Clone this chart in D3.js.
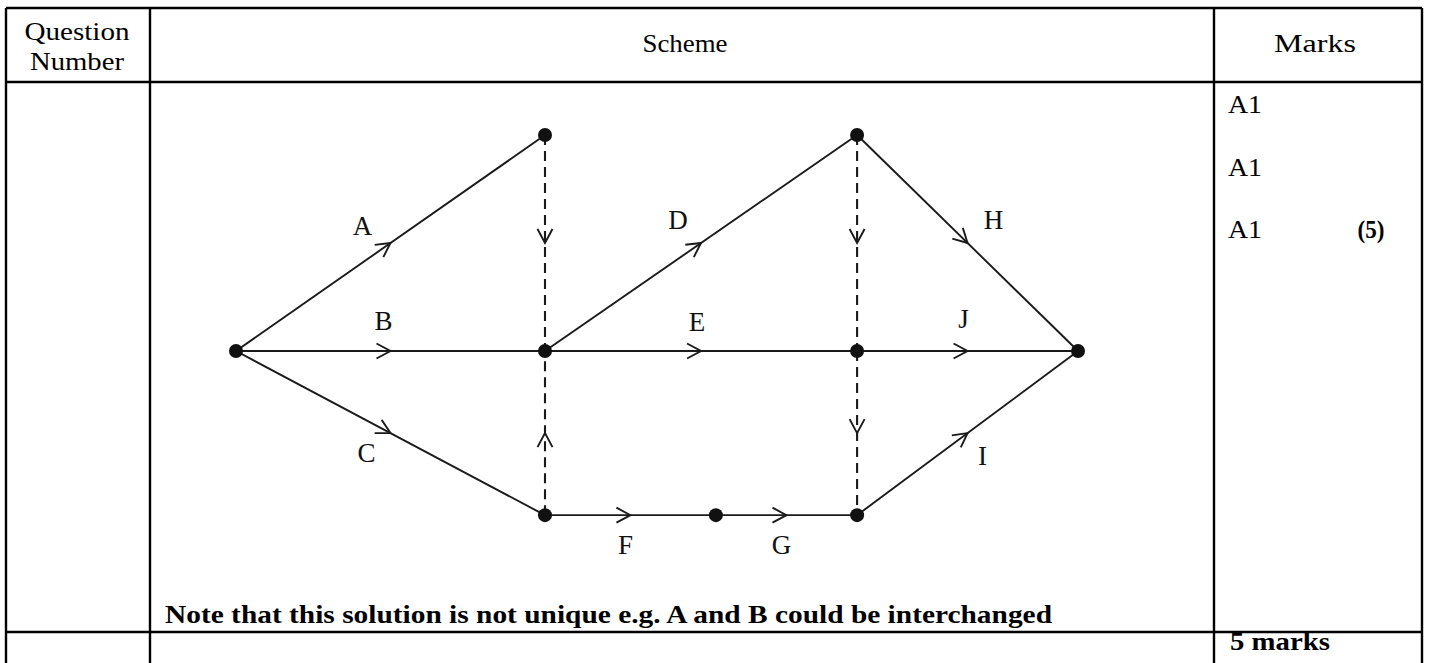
<!DOCTYPE html>
<html><head><meta charset="utf-8">
<script src="https://cdn.jsdelivr.net/npm/d3@7"></script>
<style>body{margin:0;background:#fff}svg{display:block}</style>
</head><body><svg id="c" width="1431" height="663"></svg>
<script>
// ---- data ----
const headerQuestion = ["Question", "Number"];
const headerScheme = "Scheme";
const headerMarks = "Marks";
const markCodes = ["A1", "A1", "A1"];
const partTotal = "(5)";
const totalMarks = "5 marks";
const noteText = "Note that this solution is not unique e.g. A and B could be interchanged";

// activity network: events (nodes) with position in stage units / level units
const eventIds = ["s", "t1", "m1", "b1", "b2", "t2", "m2", "b3", "e"];
const eventStage = [0, 1, 1, 1, 1.553, 2.01, 2.01, 2.01, 2.725];
const eventLevel = [0, 1, 0, -0.76, -0.76, 1, 0, -0.76, 0];

const activityNames = ["A", "B", "C", "D", "E", "F", "G", "H", "J", "I"];
const activityFrom = ["s", "s", "s", "m1", "m1", "b1", "b2", "t2", "m2", "b3"];
const activityTo = ["t1", "m1", "b1", "t2", "m2", "b2", "b3", "e", "e", "e"];

const dummyFrom = ["t1", "b1", "t2", "m2"];
const dummyTo = ["m1", "m1", "m2", "b3"];

// ---- layout / style ----
const W = 1431, H = 663;
const tbl = {left: 6, right: 1422, top: 8, bottom: 666, col1: 150, col2: 1214, row1: 82, row2: 632};
const labelOffset = {A: [-28, -17], B: [-7, -30], C: [-24, 20], D: [-23, -23], E: [-4, -29],
  F: [-5, 30], G: [-5, 30], H: [26, -23], J: [-4, -32], I: [15, 23]};
const serif = "'Liberation Serif','Times New Roman',Times,serif";

const svg = d3.select("#c");
svg.append("rect").attr("width", W).attr("height", H).attr("fill", "#fff");

const x = d3.scaleLinear().domain([0, 1]).range([236, 545]);
const y = d3.scaleLinear().domain([0, 1]).range([351, 135]);

const pos = {};
eventIds.forEach((id, i) => pos[id] = [x(eventStage[i]), y(eventLevel[i])]);

// ---- table ----
const g = svg.append("g").attr("stroke", "#000").attr("stroke-width", 2.4);
[[tbl.left, tbl.top, tbl.right, tbl.top],
 [tbl.left, tbl.row1, tbl.right, tbl.row1],
 [tbl.left, tbl.row2, tbl.right, tbl.row2],
 [tbl.left, tbl.top, tbl.left, tbl.bottom],
 [tbl.col1, tbl.top, tbl.col1, tbl.bottom],
 [tbl.col2, tbl.top, tbl.col2, tbl.bottom],
 [tbl.right, tbl.top, tbl.right, tbl.bottom]].forEach(l =>
  g.append("line").attr("x1", l[0]).attr("y1", l[1]).attr("x2", l[2]).attr("y2", l[3]));

function txt(s, cx, base, size, len, opts = {}) {
  const t = svg.append("text").attr("x", cx).attr("y", base)
    .attr("font-family", serif).attr("font-size", size)
    .attr("font-weight", opts.bold ? "bold" : "normal")
    .attr("text-anchor", opts.anchor || "middle").attr("fill", "#000").text(s);
  if (len) t.attr("textLength", len).attr("lengthAdjust", "spacingAndGlyphs");
  return t;
}

txt(headerQuestion[0], 77, 40, 25, 105);
txt(headerQuestion[1], 77, 70, 25, 94);
txt(headerScheme, 685, 52, 25, 85);
txt(headerMarks, 1315, 52, 25, 82);

const markBase = [113, 176, 238];
markCodes.forEach((m, i) => txt(m, 1228, markBase[i], 25, 34, {anchor: "start"}));
txt(partTotal, 1371, 238, 25, 27, {bold: true});
txt(noteText, 165, 623, 26, 887, {anchor: "start", bold: true});
txt(totalMarks, 1230, 650, 26, 100, {anchor: "start", bold: true});

// ---- network ----
const net = svg.append("g");
function arrowPath(a, b) {
  const mx = (a[0] + b[0]) / 2, my = (a[1] + b[1]) / 2;
  const dx = b[0] - a[0], dy = b[1] - a[1], L = Math.hypot(dx, dy);
  const ux = dx / L, uy = dy / L, px = -uy, py = ux;
  const back = 14, half = 7.5;
  return `M${mx - ux * back + px * half},${my - uy * back + py * half}L${mx},${my}L${mx - ux * back - px * half},${my - uy * back - py * half}`;
}

dummyFrom.forEach((f, i) => {
  const a = pos[f], b = pos[dummyTo[i]];
  net.append("line").attr("x1", a[0]).attr("y1", a[1]).attr("x2", b[0]).attr("y2", b[1])
    .attr("stroke", "#1a1a1a").attr("stroke-width", 2.1).attr("stroke-dasharray", "10,6");
  net.append("path").attr("d", arrowPath(a, b)).attr("fill", "none")
    .attr("stroke", "#1a1a1a").attr("stroke-width", 1.9);
});

activityNames.forEach((n, i) => {
  const a = pos[activityFrom[i]], b = pos[activityTo[i]];
  net.append("line").attr("x1", a[0]).attr("y1", a[1]).attr("x2", b[0]).attr("y2", b[1])
    .attr("stroke", "#1a1a1a").attr("stroke-width", 1.9);
  net.append("path").attr("d", arrowPath(a, b)).attr("fill", "none")
    .attr("stroke", "#1a1a1a").attr("stroke-width", 1.9);
  const mx = (a[0] + b[0]) / 2, my = (a[1] + b[1]) / 2;
  const o = labelOffset[n];
  net.append("text").attr("x", mx + o[0]).attr("y", my + o[1] + 9)
    .attr("font-family", serif).attr("font-size", 27).attr("text-anchor", "middle")
    .attr("fill", "#111").text(n);
});

net.selectAll("circle.ev").data(eventIds).join("circle").attr("class", "ev")
  .attr("cx", d => pos[d][0]).attr("cy", d => pos[d][1]).attr("r", 7).attr("fill", "#111");
</script>
</body></html>
